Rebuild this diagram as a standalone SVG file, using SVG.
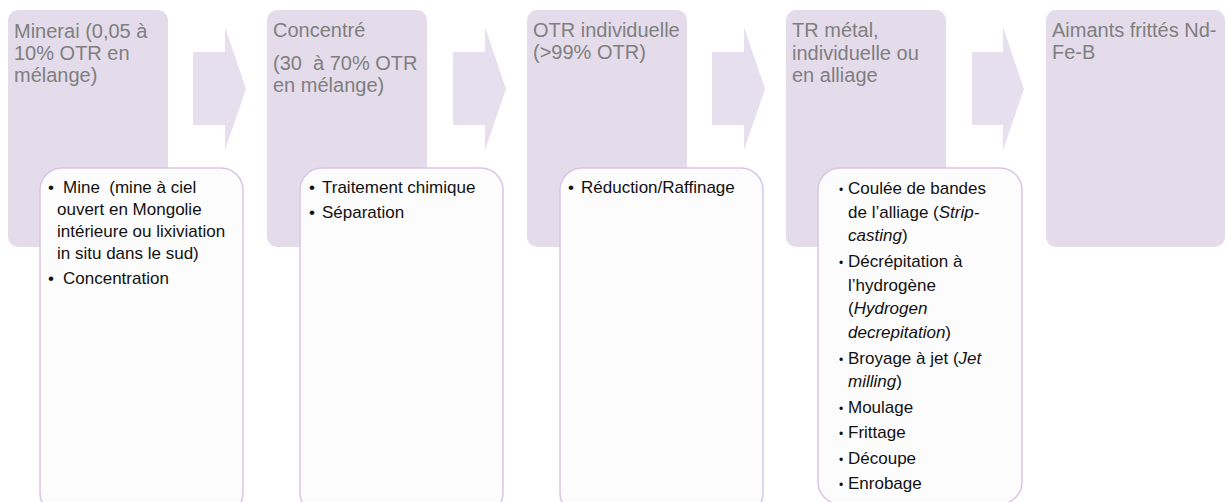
<svg xmlns="http://www.w3.org/2000/svg" width="1226" height="502" viewBox="0 0 1226 502">
<style>
.stage{fill:#E4DCEB;}
.arrow{fill:#E6DFEE;}
.hdr{font-family:"Liberation Sans",Arial,sans-serif;font-size:20px;fill:#7F7F7F;}
.sub{fill:#FCFCFD;stroke:#D6C6E6;stroke-width:1.5;}
.txt{font-family:"Liberation Sans",Arial,sans-serif;font-size:17px;fill:#111111;}
.bul{font-family:"Liberation Sans",Arial,sans-serif;font-size:17px;fill:#111111;}
.bul2{font-family:"Liberation Sans",Arial,sans-serif;font-size:12px;fill:#111111;}
.it{font-style:italic;}
</style>
<rect width="1226" height="502" fill="#FFFFFF"/>
<g id="connectors">
<path class="arrow" d="M193,52 H225 V27 L246,89 L225,150 V125 H193 Z"/>
<path class="arrow" d="M453,52 H485 V27 L506,89 L485,150 V125 H453 Z"/>
<path class="arrow" d="M712,52 H744 V27 L765,89 L744,150 V125 H712 Z"/>
<path class="arrow" d="M972,52 H1003 V27 L1024,89 L1003,150 V125 H972 Z"/>
</g>
<g id="stage1">
<rect class="stage" x="8" y="10" width="160" height="237" rx="10"/>
<text class="hdr" x="14" y="38">Minerai (0,05 à</text>
<text class="hdr" x="14" y="60">10% OTR en</text>
<text class="hdr" x="14" y="82">mélange)</text>
</g>
<g id="stage2">
<rect class="stage" x="267" y="10" width="160" height="237" rx="10"/>
<text class="hdr" x="273" y="37">Concentré</text>
<text class="hdr" x="273" y="70" xml:space="preserve">(30  à 70% OTR</text>
<text class="hdr" x="273" y="92">en mélange)</text>
</g>
<g id="stage3">
<rect class="stage" x="527" y="10" width="160" height="237" rx="10"/>
<text class="hdr" x="533" y="37">OTR individuelle</text>
<text class="hdr" x="533" y="59">(&gt;99% OTR)</text>
</g>
<g id="stage4">
<rect class="stage" x="786" y="10" width="160" height="237" rx="10"/>
<text class="hdr" x="792" y="37">TR métal,</text>
<text class="hdr" x="792" y="60">individuelle ou</text>
<text class="hdr" x="792" y="82">en alliage</text>
</g>
<g id="stage5">
<rect class="stage" x="1046" y="10" width="179" height="237" rx="10"/>
<text class="hdr" x="1052" y="37">Aimants frittés Nd-</text>
<text class="hdr" x="1052" y="59">Fe-B</text>
</g>
<g id="steps1">
<rect class="sub" x="40" y="168" width="203" height="347" rx="22"/>
<text class="bul" x="48" y="193">•</text>
<text class="txt" x="63" y="193" xml:space="preserve">Mine  (mine à ciel</text>
<text class="txt" x="57" y="215">ouvert en Mongolie</text>
<text class="txt" x="57" y="237">intérieure ou lixiviation</text>
<text class="txt" x="57" y="259">in situ dans le sud)</text>
<text class="bul" x="48" y="284">•</text>
<text class="txt" x="63" y="284">Concentration</text>
</g>
<g id="steps2">
<rect class="sub" x="300" y="168" width="203" height="347" rx="22"/>
<text class="bul" x="309" y="193">•</text>
<text class="txt" x="322" y="193">Traitement chimique</text>
<text class="bul" x="309" y="218">•</text>
<text class="txt" x="322" y="218">Séparation</text>
</g>
<g id="steps3">
<rect class="sub" x="560" y="168" width="203" height="347" rx="22"/>
<text class="bul" x="568" y="193">•</text>
<text class="txt" x="581" y="193">Réduction/Raffinage</text>
</g>
<g id="steps4">
<rect class="sub" x="818" y="168" width="204" height="336" rx="22"/>
<text class="bul2" x="839" y="194">•</text>
<text class="txt" x="848" y="194">Coulée de bandes</text>
<text class="txt" x="848" y="217.7">de l’alliage (<tspan class="it">Strip-</tspan></text>
<text class="txt" x="848" y="241.4"><tspan class="it">casting</tspan>)</text>
<text class="bul2" x="839" y="266.9">•</text>
<text class="txt" x="848" y="266.9">Décrépitation à</text>
<text class="txt" x="848" y="290.6">l’hydrogène</text>
<text class="txt" x="848" y="314.3">(<tspan class="it">Hydrogen</tspan></text>
<text class="txt" x="848" y="338"><tspan class="it">decrepitation</tspan>)</text>
<text class="bul2" x="839" y="363.5">•</text>
<text class="txt" x="848" y="363.5">Broyage à jet (<tspan class="it">Jet</tspan></text>
<text class="txt" x="848" y="387.2"><tspan class="it">milling</tspan>)</text>
<text class="bul2" x="839" y="412.7">•</text>
<text class="txt" x="848" y="412.7">Moulage</text>
<text class="bul2" x="839" y="438.2">•</text>
<text class="txt" x="848" y="438.2">Frittage</text>
<text class="bul2" x="839" y="463.7">•</text>
<text class="txt" x="848" y="463.7">Découpe</text>
<text class="bul2" x="839" y="489.2">•</text>
<text class="txt" x="848" y="489.2">Enrobage</text>
</g>
</svg>
